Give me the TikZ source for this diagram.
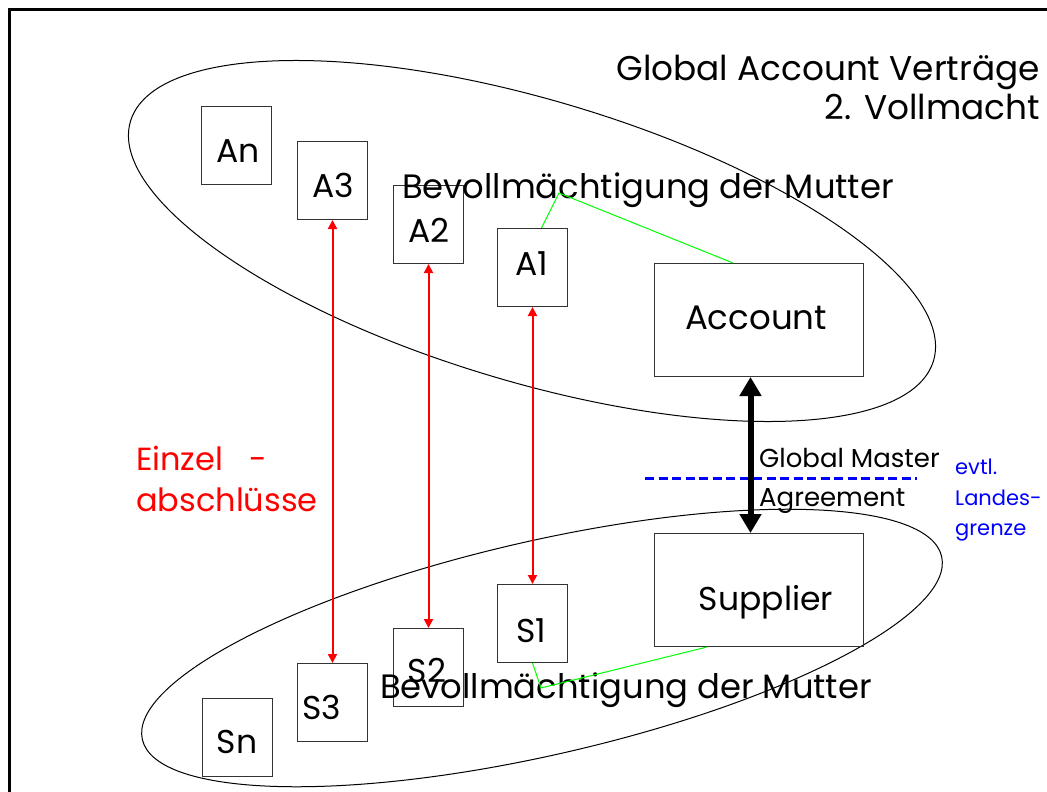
\documentclass[tikz,border=0pt]{standalone}
\usepackage{fontspec}
\setmainfont{Poppins}
\usetikzlibrary{arrows.meta}

\begin{document}
\begin{tikzpicture}[x=1pt, y=-1pt,
  box/.style={draw=black!80, line width=1pt, minimum width=70pt, minimum height=78pt,
              inner sep=0pt, anchor=north west},
  bigbox/.style={draw=black!80, line width=1pt, minimum width=209pt, minimum height=113pt,
              inner sep=0pt, anchor=north west},
  lbl/.style={inner sep=0pt, anchor=base, font=\fontsize{33}{38}\selectfont},
  txt/.style={inner sep=0pt, font=\fontsize{33.8}{38}\selectfont},
  mid/.style={inner sep=0pt, anchor=base west, font=\fontsize{26}{30}\selectfont},
  note/.style={inner sep=0pt, anchor=base west, text=blue, font=\fontsize{21}{25}\selectfont},
  deal/.style={red, line width=2pt, {Triangle[length=9pt,width=9pt]}-{Triangle[length=9pt,width=9pt]}},
  master/.style={black, line width=6pt, {Triangle[length=19pt,width=21pt]}-{Triangle[length=19pt,width=21pt]}},
  proxy/.style={green, line width=1pt},
  group/.style={black, line width=1pt}
]
\useasboundingbox (0,0) rectangle (1047,792);

% frame
\draw[line width=2.5pt] (9.7,795) -- (9.7,9.7) -- (1050,9.7);

% account side and supplier side
\draw[group, rotate around={-16.6:(532,241)}] (532,241) ellipse [x radius=419, y radius=141];
\draw[group, rotate around={12.9:(542,648)}] (542,648) ellipse [x radius=410, y radius=107];

% account companies
\node[box] (An) at (201,106) {};
\node[box] (A3) at (297,141) {};
\node[box] (A2) at (393,185) {};
\node[box] (A1) at (497,228) {};
\node[bigbox] (Acc) at (654,263) {};

% supplier companies
\node[box] (S1) at (497,584) {};
\node[box] (S2) at (393,628) {};
\node[box] (S3) at (297,663) {};
\node[box] (Sn) at (202,698) {};
\node[bigbox] (Sup) at (654,533) {};

% box labels
\node[lbl] (tAn) at (238,162) {An};
\node[lbl] (tA3) at (333,197) {A3};
\node[lbl] (tA2) at (429,242) {A2};
\node[lbl] (tA1) at (532,275) {A1};
\node[lbl, font=\fontsize{34}{38}\selectfont] (tAcc) at (756,329) {Account};
\node[lbl] (tS1) at (531,642) {S1};
\node[lbl] (tS2) at (427,682) {S2};
\node[lbl] (tS3) at (322,719) {S3};
\node[lbl] (tSn) at (237,753) {Sn};
\node[lbl] (tSup) at (766,610) {Supplier};

% titles and notes
\node[txt, anchor=base east, font=\fontsize{34.3}{38}\selectfont] (title1) at (1040,81) {Global Account Verträge};
\node[txt, anchor=base east, font=\fontsize{34.3}{38}\selectfont] (title2) at (1040,119) {2. Vollmacht};
\node[txt, anchor=base west] (bevA) at (402,198) {Bevollmächtigung der Mutter};
\node[txt, anchor=base west] (bevS) at (380,698) {Bevollmächtigung der Mutter};
\node[txt, anchor=base west, text=red, font=\fontsize{32}{38}\selectfont] (einzel1) at (136,470) {Einzel\hspace{26pt}-};
\node[txt, anchor=base west, text=red, font=\fontsize{32}{38}\selectfont] (einzel2) at (136,511) {abschlüsse};
\node[mid] (gma1) at (759,467) {Global Master};
\node[mid] (gma2) at (759,506) {Agreement};
\node[note] (ev1) at (955,474) {evtl.};
\node[note] (ev2) at (955,505) {Landes-};
\node[note] (ev3) at (955,535) {grenze};

% proxy lines
\coordinate (pA) at (559,193);
\coordinate (pS) at (541,688);
\draw[proxy] ([xshift=9pt]A1.north) -- (pA) -- ([xshift=-26pt]Acc.north);
\draw[proxy] (S1.south) -- (pS) -- ([xshift=-52pt]Sup.south);

% individual contracts
\draw[deal] (A3.south) -- (S3.north);
\draw[deal] (A2.south) -- (S2.north);
\draw[deal] (A1.south) -- (S1.north);

% national border
\coordinate (b1) at (645,478);
\coordinate (b2) at (917,478);
\draw[blue, line width=3pt, dash pattern=on 9pt off 4.5pt] (b1) -- (b2);

% global master agreement
\draw[master] ([xshift=-8.5pt]Acc.south) -- ([xshift=-8.5pt]Sup.north);
\end{tikzpicture}
\end{document}
